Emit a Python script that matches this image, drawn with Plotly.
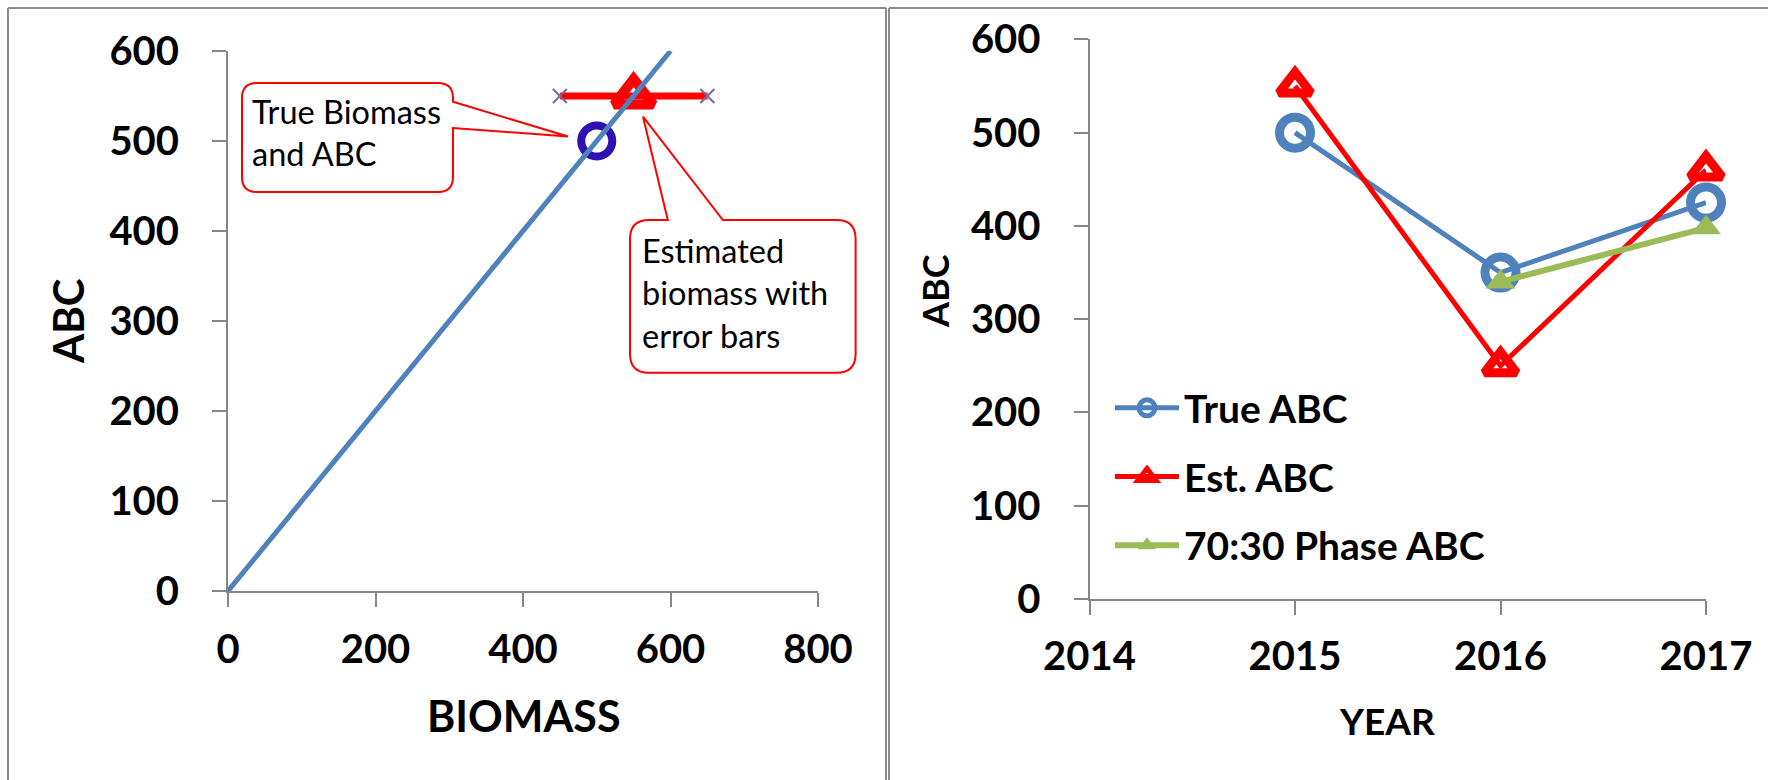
import plotly.graph_objects as go

W, H = 1768, 780

# ---- left panel: harvest control rule with true and estimated points ----
rule_biomass = [0, 600]
rule_abc = [0, 600]
true_biomass = [500]
true_abc = [500]
est_biomass = [550]
est_abc = [550]
est_err = [100]

# ---- right panel: ABC by year ----
years = [2015, 2016, 2017]
true_abc_yr = [500, 350, 425]
est_abc_yr = [550, 250, 460]
phase_years = [2016, 2017]
phase_abc_yr = [340, 398]

biomass_ticks = [0, 200, 400, 600, 800]
abc_ticks = [0, 100, 200, 300, 400, 500, 600]
year_ticks = [2014, 2015, 2016, 2017]

BLUE = "#4F81BD"
RED = "#FF0000"
GREEN = "#9BBB59"
NAVY = "#2E10B3"
PURPLE = "#8064A2"
AXIS = "#868686"
FONT = "Lato"


def px(x):
    return x / W


def py(y):
    return 1 - y / H


fig = go.Figure()

# error bar on the estimated point, with x-shaped caps
fig.add_trace(go.Scatter(
    x=est_biomass, y=est_abc, mode="markers",
    marker=dict(symbol="triangle-up-open", size=34, color=RED,
                line=dict(width=10, color=RED)),
    error_x=dict(type="data", array=est_err, color=RED, thickness=7, width=0),
    showlegend=False, xaxis="x", yaxis="y", cliponaxis=False))
fig.add_trace(go.Scatter(
    x=[est_biomass[0] - est_err[0], est_biomass[0] + est_err[0]],
    y=[est_abc[0], est_abc[0]], mode="markers",
    marker=dict(symbol="x-thin", size=14, line=dict(width=2, color=PURPLE)),
    showlegend=False, xaxis="x", yaxis="y", cliponaxis=False))
fig.add_trace(go.Scatter(
    x=true_biomass, y=true_abc, mode="markers",
    marker=dict(symbol="circle-open", size=31, color=NAVY,
                line=dict(width=8, color=NAVY)),
    showlegend=False, xaxis="x", yaxis="y", cliponaxis=False))
fig.add_trace(go.Scatter(
    x=rule_biomass, y=rule_abc, mode="lines",
    line=dict(color=BLUE, width=5),
    showlegend=False, xaxis="x", yaxis="y"))

# yearly series
fig.add_trace(go.Scatter(
    x=years, y=true_abc_yr, mode="lines+markers", name="True ABC",
    line=dict(color=BLUE, width=5),
    marker=dict(symbol="circle-open", size=31, color=BLUE,
                line=dict(width=9, color=BLUE)),
    legendgroup="a", xaxis="x2", yaxis="y2", cliponaxis=False))
fig.add_trace(go.Scatter(
    x=years, y=est_abc_yr, mode="lines+markers", name="Est. ABC",
    line=dict(color=RED, width=5),
    marker=dict(symbol="triangle-up-open", size=28, color=RED,
                line=dict(width=9, color=RED)),
    legendgroup="b", xaxis="x2", yaxis="y2", cliponaxis=False))
fig.add_trace(go.Scatter(
    x=phase_years, y=phase_abc_yr, mode="lines+markers", name="70:30 Phase ABC",
    line=dict(color=GREEN, width=6),
    marker=dict(symbol="triangle-up", size=26, color=GREEN),
    legendgroup="c", xaxis="x2", yaxis="y2", cliponaxis=False))

tickfont = dict(family=FONT, size=40, color="black", weight="bold")
axis_common = dict(
    showline=True, linecolor=AXIS, linewidth=2, ticks="outside",
    ticklen=14, tickwidth=2, tickcolor=AXIS, showgrid=False,
    zeroline=False, tickfont=tickfont, mirror=False, automargin=False)

fig.update_layout(
    width=W, height=H,
    margin=dict(l=0, r=0, t=0, b=0, pad=0, autoexpand=False),
    paper_bgcolor="white", plot_bgcolor="rgba(0,0,0,0)",
    xaxis=dict(domain=[px(228), px(818)], range=[0, 800], tickvals=biomass_ticks,
               anchor="y", ticklabelstandoff=8, **axis_common),
    yaxis=dict(domain=[py(591), py(51)], range=[0, 600], tickvals=abc_ticks,
               anchor="x", ticklabelstandoff=25, **axis_common),
    xaxis2=dict(domain=[px(1089.5), px(1706)], range=[2014, 2017], tickvals=year_ticks,
                anchor="y2", ticklabelstandoff=7, **axis_common),
    yaxis2=dict(domain=[py(599), py(39.4)], range=[0, 600], tickvals=abc_ticks,
                anchor="x2", ticklabelstandoff=25, **axis_common),
    legend=dict(x=px(1110), y=py(376), xanchor="left", yanchor="top",
                font=dict(family=FONT, size=39, color="black", weight="bold"),
                bgcolor="rgba(0,0,0,0)", tracegroupgap=15, itemwidth=64,
                traceorder="grouped"),
    showlegend=True,
)


def title(text, x, y, size, angle=0):
    fig.add_annotation(text=text, x=px(x), y=py(y), xref="paper", yref="paper",
                       showarrow=False, textangle=angle, xanchor="center",
                       yanchor="middle",
                       font=dict(family=FONT, size=size, color="black", weight="bold"))


title("BIOMASS", 523, 715, 43)
title("ABC", 68, 321, 42, -90)
title("YEAR", 1387, 720, 37)
title("ABC", 935, 291, 36, -90)


def rounded_callout(x0, y0, x1, y1, r, pointer, side):
    """Rounded box with a wedge pointer, all coordinates in pixels."""
    P = lambda x, y: f"{px(x):.5f},{py(y):.5f}"
    d = f"M{P(x0 + r, y0)}"
    if side == "top":
        (a, tip, b) = pointer
        d += f" L{P(a, y0)} L{P(*tip)} L{P(b, y0)}"
    d += f" L{P(x1 - r, y0)} Q{P(x1, y0)} {P(x1, y0 + r)}"
    if side == "right":
        (a, tip, b) = pointer
        d += f" L{P(x1, a)} L{P(*tip)} L{P(x1, b)}"
    d += f" L{P(x1, y1 - r)} Q{P(x1, y1)} {P(x1 - r, y1)}"
    d += f" L{P(x0 + r, y1)} Q{P(x0, y1)} {P(x0, y1 - r)}"
    d += f" L{P(x0, y0 + r)} Q{P(x0, y0)} {P(x0 + r, y0)} Z"
    fig.add_shape(type="path", path=d, xref="paper", yref="paper",
                  line=dict(color=RED, width=2), fillcolor="white", layer="above")


rounded_callout(242, 83, 453, 192, 15, (101.7, (568, 136.5), 128), "right")
rounded_callout(630, 220, 855.6, 372.7, 19, (667.8, (643, 116.7), 722.9), "top")

note_font = dict(family=FONT, size=32.5, color="black")
fig.add_annotation(text="True Biomass<br>and ABC", x=px(250), y=py(132),
                   xref="paper", yref="paper", showarrow=False, align="left",
                   xanchor="left", yanchor="middle", font=note_font)
fig.add_annotation(text="Estimated<br>biomass with<br>error bars", x=px(640), y=py(293),
                   xref="paper", yref="paper", showarrow=False, align="left",
                   xanchor="left", yanchor="middle", font=note_font)

# panel frames
FRAME = "#8C8C8C"
for x0, x1 in [(8, 886), (889, W)]:
    fig.add_shape(type="line", x0=px(x0), x1=px(x1), y0=py(8), y1=py(8),
                  xref="paper", yref="paper", line=dict(color=FRAME, width=2))
for x in [8, 886, 889]:
    fig.add_shape(type="line", x0=px(x), x1=px(x), y0=py(8), y1=py(H),
                  xref="paper", yref="paper", line=dict(color=FRAME, width=2))

fig.write_html("out.html")
